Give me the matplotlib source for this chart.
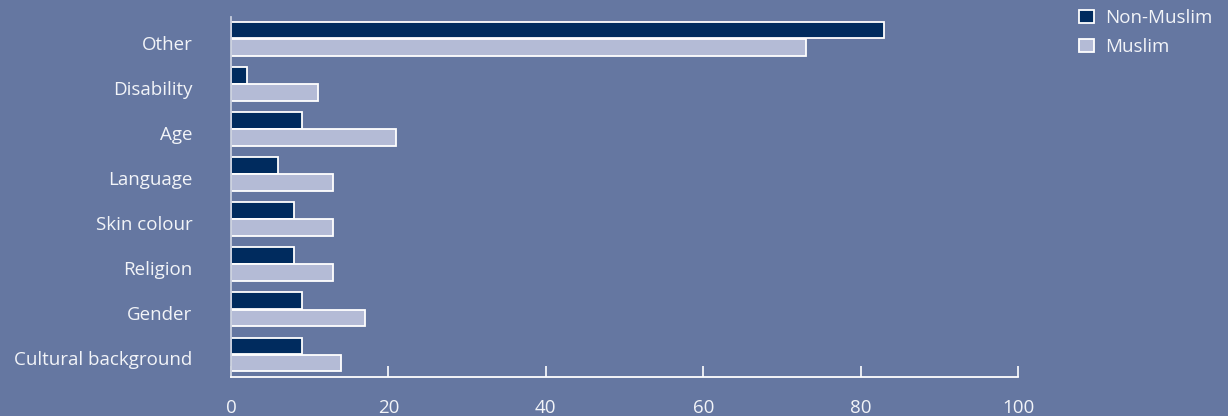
import matplotlib.pyplot as plt
import numpy as np

categories = ["Cultural background", "Gender", "Religion", "Skin colour",
              "Language", "Age", "Disability", "Other"]
non_muslim = [9, 9, 8, 8, 6, 9, 2, 83]
muslim = [14, 17, 13, 13, 13, 21, 11, 73]

bg = "#6577a1"
dark = "#002b5e"
light = "#b4bbd6"
txt = "#f2f4f8"

plt.rcParams["font.family"] = ["Open Sans", "DejaVu Sans"]

fig = plt.figure(figsize=(12.28, 4.16), dpi=100, facecolor=bg)
ax = fig.add_axes([231 / 1228, 1 - 377 / 416, (1018 - 231) / 1228, (377 - 17) / 416])
ax.set_facecolor(bg)

y = np.arange(len(categories))
h = 0.37
ax.barh(y + h / 2 + 0.005, non_muslim, height=h, color=dark, edgecolor="white",
        linewidth=1.3, label="Non-Muslim")
ax.barh(y - h / 2 - 0.005, muslim, height=h, color=light, edgecolor="white",
        linewidth=1.3, label="Muslim")

ax.set_xlim(0, 100)
ax.set_ylim(-0.5, 7.48)
ax.set_xticks([0, 20, 40, 60, 80, 100])
ax.set_yticks([])
for yi, name in zip(y, categories):
    ax.text(-4.9, yi - 0.13, name, ha="right", va="center", fontsize=13.5,
            color=txt, transform=ax.transData)
ax.tick_params(axis="x", direction="in", length=8, width=1.2, color="white",
               labelcolor=txt, labelsize=13.5, pad=16)

for s in ["top", "right"]:
    ax.spines[s].set_visible(False)
ax.spines["bottom"].set_color("white")
ax.spines["bottom"].set_linewidth(1.3)
ax.spines["left"].set_color("#c8cedd")
ax.spines["left"].set_linewidth(1.3)

fig.legend(loc="upper left", bbox_to_anchor=(1079 / 1228, 1 - 9 / 416), frameon=False,
           fontsize=13.5, labelcolor=txt, handlelength=0.8, handleheight=0.7,
           labelspacing=0.6, handletextpad=0.6, borderpad=0, borderaxespad=0)

fig.savefig("out.png", dpi=100, facecolor=bg)
